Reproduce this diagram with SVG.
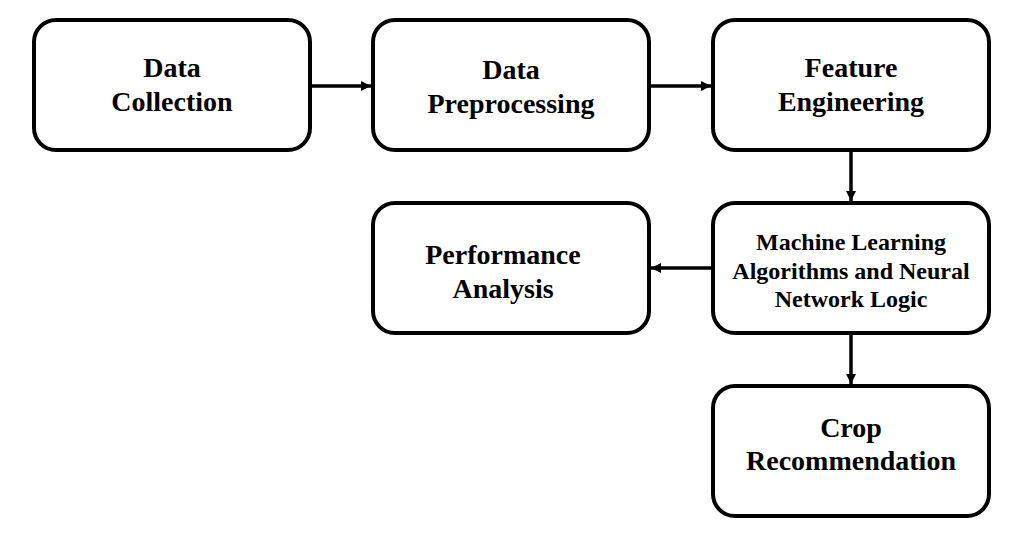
<svg xmlns="http://www.w3.org/2000/svg" width="1013" height="534" viewBox="0 0 1013 534">
  <style>
    .box { fill: #ffffff; stroke: #000000; stroke-width: 4; }
    .lbl { font-family: "Liberation Serif", "Times New Roman", serif; font-weight: bold; font-size: 28px; fill: #000000; text-anchor: middle; }
    .lbl-sm { font-size: 24px; }
    .edge { stroke: #000000; stroke-width: 3.5; fill: none; marker-end: url(#head); }
  </style>
  <defs>
    <marker id="head" viewBox="0 0 10 10" refX="10" refY="5" markerWidth="10" markerHeight="10" markerUnits="userSpaceOnUse" orient="auto">
      <path d="M0,0 L10,5 L0,10 Z" fill="#000000"/>
    </marker>
  </defs>
  <rect width="1013" height="534" fill="#ffffff"/>

  <g id="connectors">
    <line class="edge" x1="312" y1="86" x2="371" y2="86"/>
    <line class="edge" x1="651" y1="86" x2="711" y2="86"/>
    <line class="edge" x1="851" y1="152" x2="851" y2="201"/>
    <line class="edge" x1="711" y1="268" x2="651" y2="268"/>
    <line class="edge" x1="851" y1="335" x2="851" y2="384"/>
  </g>

  <g id="data-collection">
    <rect class="box" x="34" y="20" width="276" height="130" rx="22"/>
    <text class="lbl" x="172" y="77">Data</text>
    <text class="lbl" x="172" y="111">Collection</text>
  </g>

  <g id="data-preprocessing">
    <rect class="box" x="373" y="20" width="276" height="130" rx="22"/>
    <text class="lbl" x="511" y="79">Data</text>
    <text class="lbl" x="511" y="113">Preprocessing</text>
  </g>

  <g id="feature-engineering">
    <rect class="box" x="713" y="20" width="276" height="130" rx="22"/>
    <text class="lbl" x="851" y="77">Feature</text>
    <text class="lbl" x="851" y="111">Engineering</text>
  </g>

  <g id="performance-analysis">
    <rect class="box" x="373" y="203" width="276" height="130" rx="22"/>
    <text class="lbl" x="503" y="264">Performance</text>
    <text class="lbl" x="503" y="298">Analysis</text>
  </g>

  <g id="ml-algorithms">
    <rect class="box" x="713" y="203" width="276" height="130" rx="22"/>
    <text class="lbl lbl-sm" x="851" y="250">Machine Learning</text>
    <text class="lbl lbl-sm" x="851" y="279">Algorithms and Neural</text>
    <text class="lbl lbl-sm" x="851" y="307">Network Logic</text>
  </g>

  <g id="crop-recommendation">
    <rect class="box" x="713" y="386" width="276" height="130" rx="22"/>
    <text class="lbl" x="851" y="437">Crop</text>
    <text class="lbl" x="851" y="470">Recommendation</text>
  </g>
</svg>
